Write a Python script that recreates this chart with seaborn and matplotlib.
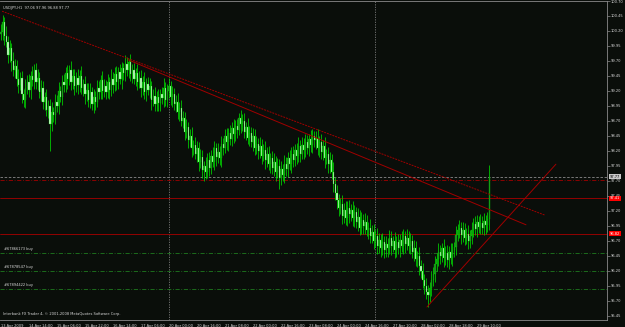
import numpy as np
import pandas as pd
import matplotlib
matplotlib.use("Agg")
import matplotlib.pyplot as plt
import seaborn as sns

# USDJPY H1 closes (280 bars)
closes = [
    100.18, 100.35, 100.12, 100.02, 99.80, 99.92, 99.70, 99.55, 99.62, 99.40,
    99.30, 99.42, 99.15, 99.05, 99.25, 99.35, 99.22, 99.45, 99.38, 99.55,
    99.35, 99.42, 99.18, 99.25, 99.02, 99.10, 98.88, 98.95, 98.65, 98.85,
    98.80, 99.02, 98.95, 99.20, 99.10, 99.35, 99.30, 99.50, 99.40, 99.55,
    99.35, 99.45, 99.28, 99.42, 99.30, 99.45, 99.25, 99.32, 99.15, 99.22,
    99.05, 99.18, 98.98, 99.10, 99.02, 99.25, 99.18, 99.38, 99.20, 99.28,
    99.18, 99.35, 99.22, 99.40, 99.30, 99.48, 99.35, 99.52, 99.40, 99.58,
    99.50, 99.65, 99.55, 99.68, 99.48, 99.55, 99.40, 99.50, 99.35, 99.42,
    99.25, 99.35, 99.18, 99.32, 99.22, 99.28, 99.05, 99.12, 98.98, 99.10,
    99.00, 99.15, 99.08, 99.25, 99.05, 99.20, 99.28, 99.10, 99.15, 98.98,
    99.02, 98.85, 98.92, 98.70, 98.75, 98.52, 98.60, 98.38, 98.45, 98.25,
    98.30, 98.15, 98.25, 98.02, 98.10, 97.88, 97.95, 97.85, 98.05, 97.92,
    98.12, 98.02, 98.25, 98.10, 98.18, 98.08, 98.32, 98.25, 98.45, 98.35,
    98.50, 98.40, 98.58, 98.48, 98.62, 98.55, 98.75, 98.65, 98.70, 98.52,
    98.60, 98.42, 98.50, 98.35, 98.45, 98.25, 98.32, 98.20, 98.28, 98.12,
    98.22, 98.05, 98.15, 97.98, 98.08, 97.92, 98.02, 97.85, 97.95, 97.75,
    97.90, 97.80, 97.98, 97.90, 98.08, 97.98, 98.15, 98.05, 98.22, 98.12,
    98.28, 98.15, 98.30, 98.22, 98.35, 98.25, 98.40, 98.30, 98.45, 98.38,
    98.42, 98.25, 98.35, 98.18, 98.28, 98.08, 98.15, 97.98, 98.05, 97.85,
    97.65, 97.50, 97.38, 97.25, 97.32, 97.12, 97.22, 97.08, 97.25, 97.15,
    97.22, 97.08, 97.18, 97.02, 97.10, 96.92, 97.05, 96.95, 97.02, 96.88,
    96.92, 96.78, 96.85, 96.70, 96.78, 96.62, 96.72, 96.58, 96.68, 96.55,
    96.65, 96.58, 96.75, 96.62, 96.70, 96.55, 96.68, 96.58, 96.72, 96.62,
    96.78, 96.65, 96.75, 96.62, 96.70, 96.52, 96.58, 96.40, 96.45, 96.28,
    96.20, 96.05, 95.95, 95.85, 95.80, 95.92, 96.05, 96.15, 96.32, 96.40,
    96.52, 96.45, 96.58, 96.42, 96.50, 96.38, 96.52, 96.42, 96.55, 96.60,
    96.80, 96.88, 96.92, 96.80, 96.88, 96.75, 96.82, 96.70, 96.78, 96.88,
    96.98, 96.90, 97.02, 96.94, 97.00, 96.92, 97.04, 96.96, 97.06, 97.77,
]
first_open = 100.15

# wick lengths above / below the body, in pips
upper_wick = [
    14, 12, 9, 16, 10, 13, 8, 15, 11, 9, 17, 10, 12, 8, 15, 11, 13, 9, 16, 10,
    12, 15, 9, 13, 11, 8, 14, 10, 12, 16, 9, 13, 11, 15, 8, 12, 14, 10, 13, 9,
    15, 11, 12, 9, 14, 10, 16, 8, 13, 11, 12, 15, 9, 14, 10, 13, 11, 8, 15, 12,
    10, 13, 9, 16, 11, 12, 14, 8, 13, 10, 9, 15, 11, 6, 14, 10, 12, 9, 15, 11,
    13, 10, 16, 9, 12, 14, 8, 11, 15, 10, 13, 9, 12, 16, 10, 11, 14, 9, 13, 10,
    12, 15, 9, 13, 11, 10, 14, 8, 12, 15, 9, 13, 11, 10, 14, 12, 9, 15, 11, 13,
    10, 14, 12, 9, 15, 11, 13, 10, 12, 14, 9, 13, 11, 15, 10, 12, 8, 14, 11, 13,
    9, 15, 12, 10, 14, 11, 13, 9, 15, 12, 10, 14, 11, 13, 9, 12, 15, 10, 14, 11,
    13, 9, 15, 12, 10, 14, 11, 13, 9, 12, 15, 10, 14, 11, 13, 12, 9, 15, 11, 8,
    12, 14, 10, 13, 11, 15, 9, 12, 14, 10, 16, 12, 13, 11, 10, 14, 12, 15, 11, 13,
    10, 14, 12, 9, 15, 11, 13, 10, 14, 12, 9, 15, 11, 13, 10, 14, 12, 9, 15, 11,
    13, 10, 14, 12, 9, 15, 11, 13, 10, 14, 12, 9, 15, 11, 13, 10, 14, 12, 9, 15,
    11, 13, 10, 14, 12, 9, 15, 11, 13, 10, 14, 12, 9, 15, 11, 13, 10, 14, 12, 9,
    15, 11, 13, 10, 14, 12, 9, 15, 11, 13, 10, 14, 12, 9, 15, 11, 13, 10, 12, 19,
]
lower_wick = [
    10, 13, 15, 9, 14, 11, 16, 10, 13, 12, 14, 9, 15, 11, 13, 10, 12, 16, 9, 14,
    11, 13, 10, 15, 12, 14, 9, 13, 45, 11, 12, 15, 10, 13, 9, 14, 11, 12, 16, 10,
    13, 11, 14, 9, 15, 12, 10, 13, 16, 11, 12, 14, 10, 15, 13, 9, 12, 11, 14, 10,
    12, 9, 15, 11, 13, 10, 14, 12, 9, 16, 11, 13, 10, 14, 12, 15, 9, 11, 13, 10,
    15, 12, 11, 14, 9, 13, 16, 10, 12, 11, 14, 13, 9, 15, 10, 12, 11, 14, 16, 10,
    13, 11, 15, 9, 12, 14, 10, 13, 11, 15, 12, 9, 14, 16, 11, 13, 18, 12, 10, 14,
    11, 9, 13, 15, 10, 12, 14, 11, 9, 13, 15, 10, 12, 14, 11, 13, 9, 15, 12, 10,
    14, 11, 13, 9, 15, 12, 10, 14, 11, 13, 9, 15, 12, 10, 14, 11, 13, 15, 10, 18,
    12, 10, 14, 11, 13, 9, 15, 12, 10, 14, 11, 13, 9, 15, 12, 10, 14, 11, 13, 12,
    14, 11, 15, 12, 13, 16, 10, 14, 15, 12, 14, 11, 15, 13, 10, 14, 12, 11, 13, 15,
    11, 13, 14, 10, 15, 12, 11, 13, 14, 10, 15, 12, 11, 13, 10, 14, 12, 15, 11, 13,
    12, 14, 10, 15, 11, 13, 12, 10, 14, 11, 13, 15, 10, 12, 14, 11, 16, 12, 13, 15,
    12, 14, 13, 12, 20, 11, 13, 10, 14, 12, 11, 13, 10, 15, 12, 11, 14, 10, 13, 11,
    14, 10, 13, 15, 11, 12, 10, 14, 11, 13, 12, 10, 14, 11, 13, 10, 12, 14, 11, 18,
]

time_labels = [
    "13 Apr 2009", "14 Apr 14:00", "15 Apr 06:00", "15 Apr 22:00",
    "16 Apr 14:00", "17 Apr 06:00", "20 Apr 00:00", "20 Apr 16:00",
    "21 Apr 08:00", "22 Apr 00:00", "22 Apr 16:00", "23 Apr 08:00",
    "24 Apr 00:00", "24 Apr 16:00", "27 Apr 10:00", "28 Apr 02:00",
    "28 Apr 18:00", "29 Apr 10:00",
]
week_starts = [96, 214]

# trend lines: start bar/price, end bar/price
trend_names = ["upper", "middle", "support"]
trend_bar0 = [0.6, 72.6, 243.4]
trend_px0 = [100.53, 99.72, 95.60]
trend_bar1 = [310.9, 300.0, 317.1]
trend_px1 = [97.13, 96.97, 97.98]

bid_price = 97.77
red_dashdot_level = 97.72
red_levels = [97.41, 96.82]
order_levels = [96.50, 96.20, 95.90]
order_labels = ["#67866173 buy", "#67878547 buy", "#67894422 buy"]

header = "USDJPY,H1  97.06 97.96 96.88 97.77"
footer = "Interbank FX Trader 4, \u00a9 2001-2008 MetaQuotes Software Corp."

bg = "#0a0e0a"
txt = "#d8d8d8"
fs = 2.6

sns.set_theme(style="dark", rc={"axes.facecolor": bg, "figure.facecolor": bg})
plt.rcParams["font.family"] = ["DejaVu Sans"]

close = np.array(closes)
opens = np.concatenate([[first_open], close[:-1]])
highs = np.maximum(opens, close) + np.array(upper_wick) / 100
lows = np.minimum(opens, close) - np.array(lower_wick) / 100
bars = np.arange(len(close))

fig = plt.figure(figsize=(6.25, 3.27), dpi=100)
ax = fig.add_axes([0, 7 / 327, 607 / 625, 319 / 327])
ax.set_facecolor(bg)
ax.set_xlim(-0.571, 346.29)
ax.set_ylim(95.383, 100.70)

# period separators
for b in week_starts:
    ax.axvline(b, color="#7a7a7a", lw=0.6, ls=(0, (1.5, 1.5)), zorder=1)

# order / level lines
ax.axhline(bid_price, color="#8a8a8a", lw=0.6, ls=(0, (3, 2)), zorder=1)
ax.axhline(red_dashdot_level, color="#a00000", lw=0.6, ls=(0, (5, 2, 1, 2)), zorder=1)
for lvl in red_levels:
    ax.axhline(lvl, color="#a80000", lw=0.6, zorder=1)
for lvl, lab in zip(order_levels, order_labels):
    ax.axhline(lvl, color="#1f7a1f", lw=0.6, ls=(0, (5, 2, 1, 2)), zorder=1)
    ax.text(1.5, lvl + 0.03, lab, color=txt, fontsize=fs, va="bottom", ha="left")

# candles
ax.vlines(bars, lows, highs, colors="#00d800", lw=0.55, zorder=3)
bull = close >= opens
ax.bar(bars[bull], (close - opens)[bull], bottom=opens[bull], width=0.6,
       color="#1d8a1d", edgecolor="#00d800", linewidth=0.2, zorder=4)
ax.bar(bars[~bull], (close - opens)[~bull], bottom=opens[~bull], width=0.6,
       color="#c8f5c8", edgecolor="#00d800", linewidth=0.2, zorder=4)

# trend lines
trend_df = pd.DataFrame({
    "line": trend_names * 2,
    "bar": trend_bar0 + trend_bar1,
    "price": trend_px0 + trend_px1,
})
sns.lineplot(data=trend_df, x="bar", y="price", units="line", estimator=None,
             sort=False, color="#a00000", lw=0.7, ax=ax, zorder=5)
for ln in ax.lines[-1:]:
    ln.set_linestyle((0, (2, 1)))

# axes styling
ax.yaxis.tick_right()
yt = np.arange(95.45, 100.71, 0.25)
ax.set_yticks(yt)
ax.set_yticklabels([f"{v:.2f}" for v in yt])
ax.set_xticks(np.arange(0, 16 * len(time_labels), 16))
ax.set_xticklabels(time_labels, ha="left")
ax.tick_params(axis="both", colors="#8a8a8a", labelcolor=txt, labelsize=fs,
               length=2, width=0.5, pad=0.8)
ax.set_xlabel("")
ax.set_ylabel("")
ax.grid(False)
ax.spines["left"].set_visible(False)
for side in ["right", "bottom", "top"]:
    ax.spines[side].set_visible(True)
    ax.spines[side].set_color("#8a8a8a")
    ax.spines[side].set_linewidth(0.6)

# price tags on the axis
ax.annotate(f"{bid_price:.2f}", xy=(1.0, bid_price), xycoords=("axes fraction", "data"),
            xytext=(2, 0), textcoords="offset points", va="center", ha="left",
            fontsize=fs, color="black",
            bbox=dict(boxstyle="square,pad=0.15", fc="#c8c8c8", ec="none"))
for lvl in red_levels:
    ax.annotate(f"{lvl:.2f}", xy=(1.0, lvl), xycoords=("axes fraction", "data"),
                xytext=(2, 0), textcoords="offset points", va="center", ha="left",
                fontsize=fs, color="white",
                bbox=dict(boxstyle="square,pad=0.15", fc="#ff0000", ec="none"))

ax.text(0.005, 0.985, header, transform=ax.transAxes, color=txt, fontsize=fs,
        va="top", ha="left")
ax.text(0.005, 0.012, footer, transform=ax.transAxes, color=txt, fontsize=fs,
        va="bottom", ha="left")

fig.savefig("out.png", dpi=100, facecolor=bg)
